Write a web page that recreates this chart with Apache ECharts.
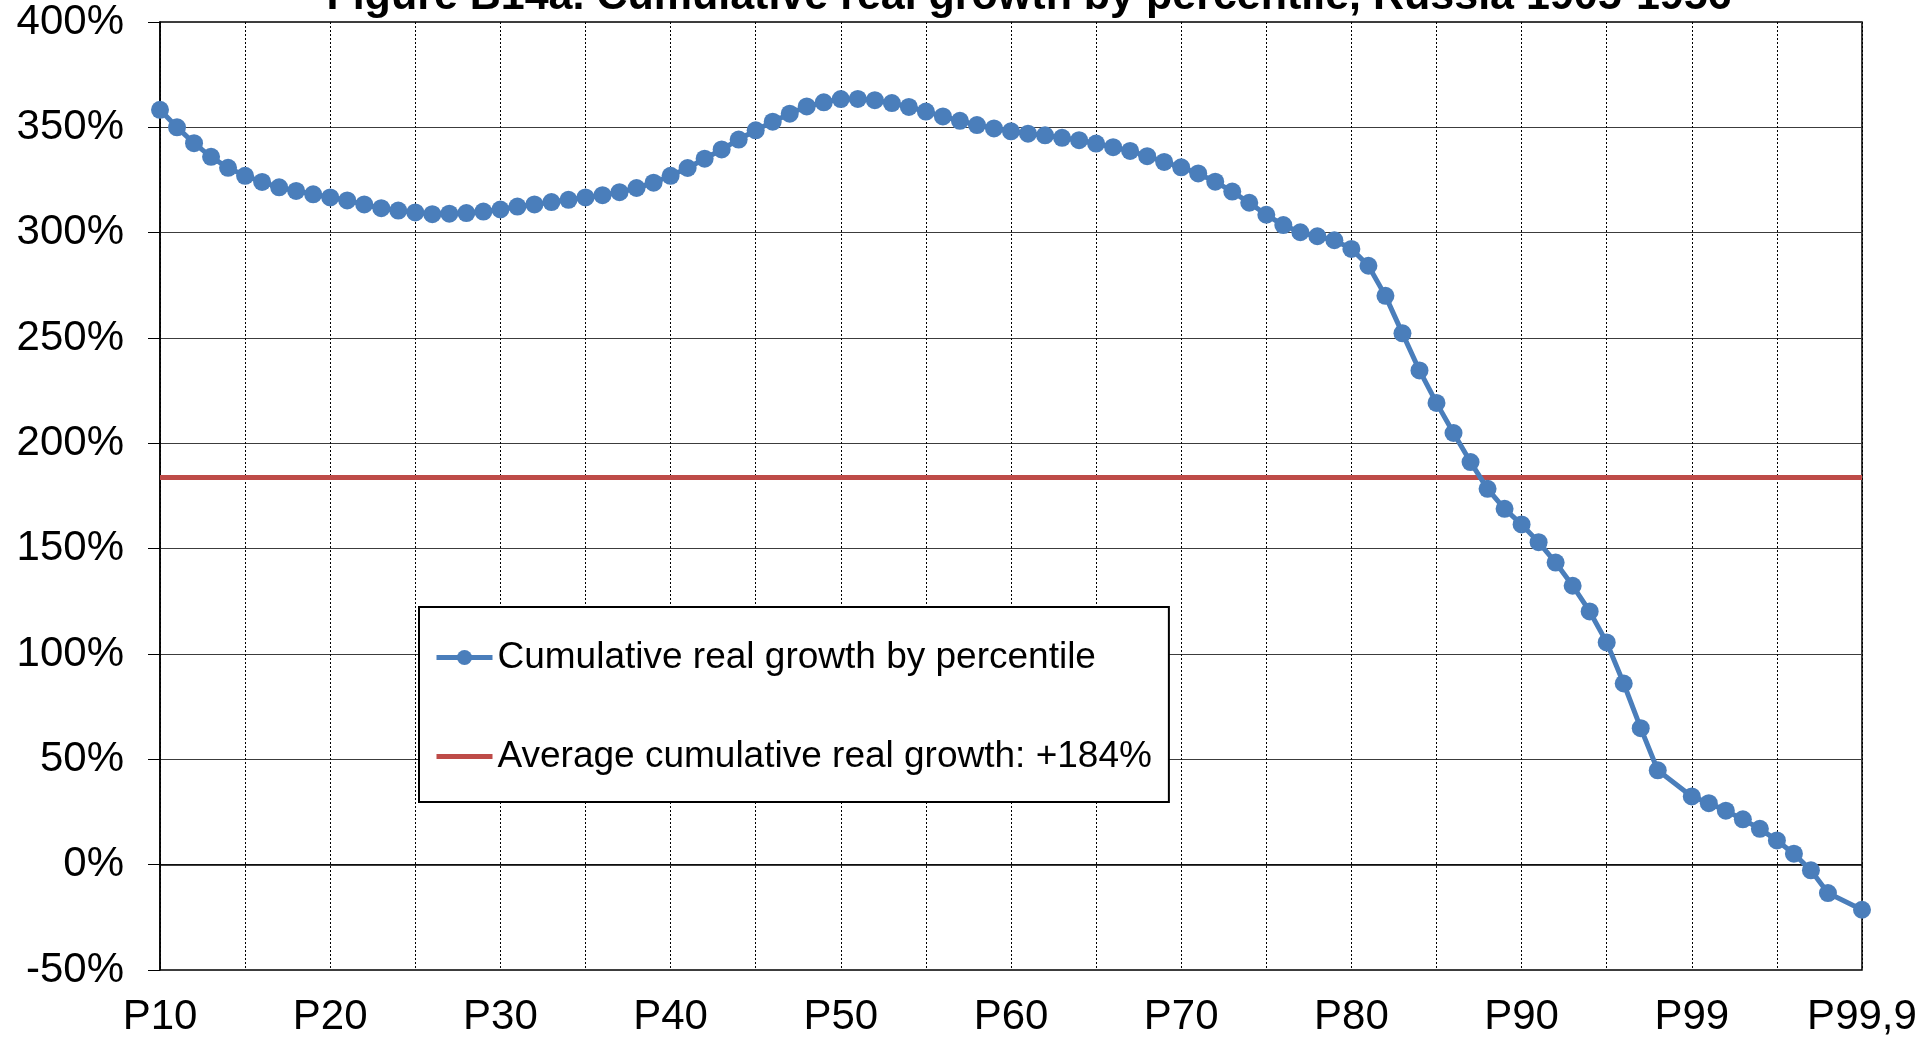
<!DOCTYPE html>
<html>
<head>
<meta charset="utf-8">
<script src="https://cdn.jsdelivr.net/npm/echarts@6/dist/echarts.min.js"></script>
<style>
html,body{margin:0;padding:0;background:#fff;}
#chart{width:1932px;height:1038px;}
</style>
</head>
<body>
<div id="chart"></div>
<script>
const titleText = 'Figure B14a. Cumulative real growth by percentile, Russia 1905-1956';
const seriesName = 'Cumulative real growth by percentile';
const avgName = 'Average cumulative real growth: +184%';
const avgGrowth = 184;

const categories = [
  'P10','P11','P12','P13','P14','P15','P16','P17','P18','P19',
  'P20','P21','P22','P23','P24','P25','P26','P27','P28','P29',
  'P30','P31','P32','P33','P34','P35','P36','P37','P38','P39',
  'P40','P41','P42','P43','P44','P45','P46','P47','P48','P49',
  'P50','P51','P52','P53','P54','P55','P56','P57','P58','P59',
  'P60','P61','P62','P63','P64','P65','P66','P67','P68','P69',
  'P70','P71','P72','P73','P74','P75','P76','P77','P78','P79',
  'P80','P81','P82','P83','P84','P85','P86','P87','P88','P89',
  'P90','P91','P92','P93','P94','P95','P96','P97','P98','',
  'P99','P99,1','P99,2','P99,3','P99,4','P99,5','P99,6','P99,7','P99,8',' ',
  'P99,9'
];

const growth = [
  358.3, 350.0, 342.5, 336.0, 330.8, 327.0, 324.1, 321.5, 319.8, 318.2,
  316.7, 315.3, 313.4, 311.6, 310.5, 309.6, 308.8, 309.0, 309.3, 310.0,
  311.0, 312.4, 313.4, 314.5, 315.6, 316.7, 317.8, 319.2, 321.2, 323.7,
  327.0, 330.7, 335.1, 339.5, 344.2, 348.6, 352.7, 356.5, 359.9, 361.9,
  363.4, 363.5, 362.9, 361.5, 359.7, 357.5, 355.2, 353.1, 351.1, 349.5,
  348.1, 347.0, 346.2, 345.0, 343.9, 342.3, 340.6, 338.8, 336.3, 333.6,
  331.0, 328.1, 324.2, 319.5, 314.2, 308.5, 303.6, 300.2, 298.3, 296.4,
  292.3, 284.3, 270.0, 252.2, 234.6, 219.2, 204.9, 191.1, 178.4, 168.9,
  161.5, 153.1, 143.4, 132.4, 120.2, 105.5, 86.0, 64.8, 44.8, null,
  32.4, 29.2, 25.6, 21.5, 17.0, 11.5, 5.2, -2.7, -13.5, null,
  -21.4
];

const yMin = -50, yMax = 400, yStep = 50;

const FONT = "'Liberation Sans Narrow', 'Liberation Sans', Arial, sans-serif";

const chart = echarts.init(document.getElementById('chart'), null, {renderer: 'canvas'});
chart.setOption({
  backgroundColor: '#ffffff',
  animation: false,
  graphic: [{
    type: 'text',
    x: 1029, y: 19,
    style: {
      text: titleText,
      font: "bold 43px 'Liberation Sans Narrow', 'Liberation Sans', Arial, sans-serif",
      fill: '#000',
      textAlign: 'center',
      textVerticalAlign: 'bottom'
    },
    z: 100
  }],
  grid: {
    left: 160, right: 70, top: 22, bottom: 63,
    show: true, borderColor: '#000', borderWidth: 1.5, backgroundColor: 'transparent'
  },
  legend: {
    orient: 'vertical',
    left: 419, top: 607,
    padding: [32, 17, 27, 15],
    itemGap: 62,
    itemWidth: 56, itemHeight: 19,
    backgroundColor: '#fff',
    borderColor: '#000', borderWidth: 2,
    lineStyle: {width: 5},
    textStyle: {fontFamily: FONT, fontSize: 37, color: '#000'},
    data: [
      {name: seriesName},
      {name: avgName, itemStyle: {opacity: 0}}
    ]
  },
  xAxis: {
    type: 'category',
    data: categories,
    boundaryGap: false,
    axisLine: {show: true, lineStyle: {color: '#000', width: 1.5}},
    axisTick: {show: false},
    axisLabel: {interval: 9, margin: 26, fontFamily: FONT, fontSize: 42, color: '#000'},
    splitLine: {show: true, interval: 4, lineStyle: {color: '#000', width: 1, type: [2, 2]}}
  },
  yAxis: {
    type: 'value',
    min: yMin, max: yMax, interval: yStep,
    axisLine: {show: true, lineStyle: {color: '#000', width: 1.5}},
    axisTick: {show: true, length: 12, lineStyle: {color: '#000'}},
    axisLabel: {margin: 36, fontFamily: FONT, fontSize: 42, color: '#000', formatter: v => v + '%'},
    splitLine: {show: true, lineStyle: {color: '#3c3c3c', width: 1.2}}
  },
  series: [
    {
      name: avgName,
      type: 'line',
      data: [],
      symbol: 'none',
      z: 2,
      itemStyle: {color: '#BE4B48'},
      lineStyle: {color: '#BE4B48', width: 5},
      markLine: {
        silent: true,
        symbol: 'none',
        label: {show: false},
        lineStyle: {color: '#BE4B48', width: 5, type: 'solid'},
        data: [{yAxis: avgGrowth}]
      }
    },
    {
      name: seriesName,
      type: 'line',
      data: growth,
      connectNulls: true,
      showAllSymbol: true,
      symbol: 'circle',
      symbolSize: 18,
      z: 5,
      itemStyle: {color: '#4A7EBB'},
      lineStyle: {color: '#4A7EBB', width: 5}
    }
  ]
});
</script>
</body>
</html>
